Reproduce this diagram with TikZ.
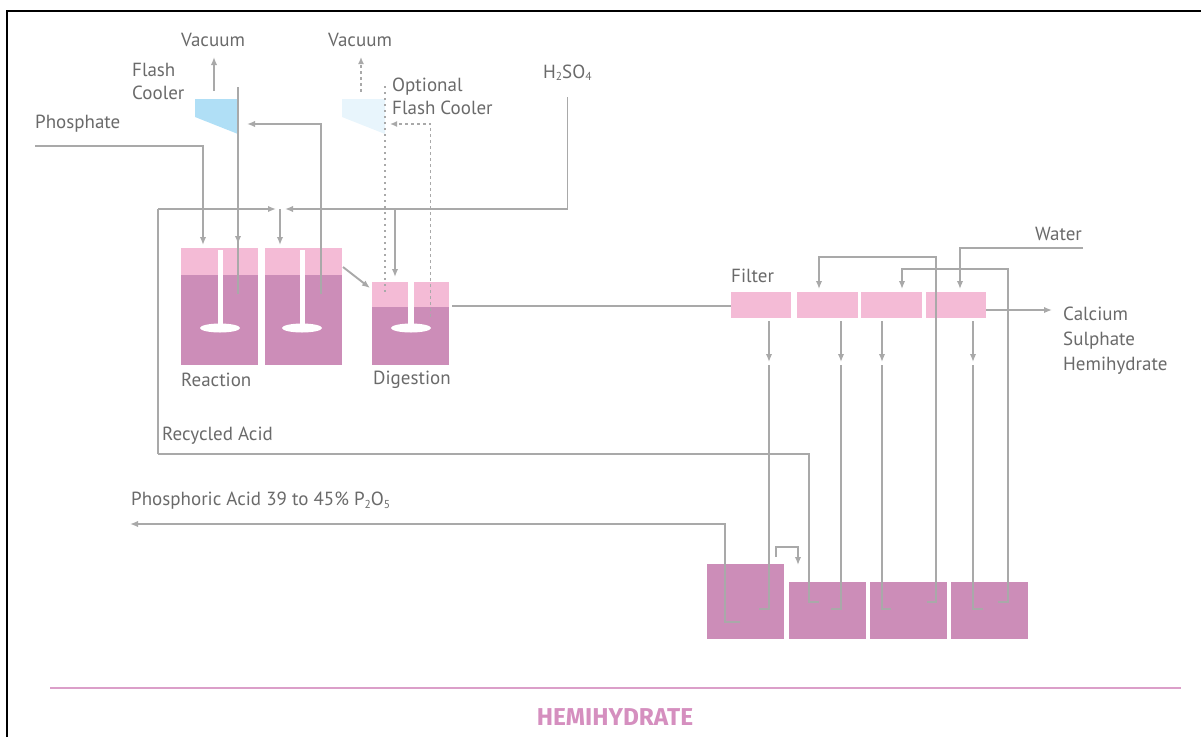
\documentclass[tikz,border=0pt]{standalone}
\usepackage{fontspec}
\setmainfont{PT Sans}
\newfontfamily\titlefont{Fira Sans}
\usetikzlibrary{arrows.meta,calc}
\definecolor{flowgray}{HTML}{A9A9A9}
\definecolor{labelgray}{HTML}{6A6A6A}
\definecolor{lightpink}{HTML}{F4BBD6}
\definecolor{darkpink}{HTML}{CC8DB8}
\definecolor{rulepink}{HTML}{DB9FC9}
\definecolor{titlepink}{HTML}{D58FBF}
\definecolor{coolblue}{HTML}{B0DFF6}
\definecolor{coolpale}{HTML}{E8F5FC}
\newcommand{\subdigit}[1]{\raisebox{-2.5pt}{\fontsize{11.5}{12}\selectfont #1}}
\tikzset{
  x=1pt,y=-1pt,
  box/.style={inner sep=0pt,outer sep=0pt,minimum width=#1},
  lighttank/.style={box=#1,fill=lightpink},
  darktank/.style={box=#1,fill=darkpink},
  lbl/.style={inner sep=0pt,text=labelgray,font=\fontsize{19}{23}\selectfont,align=left},
  pipe/.style={draw=flowgray,line width=1.9pt},
  flow/.style={pipe,-{Latex[length=8pt,width=6.5pt]}},
  dashpipe/.style={pipe,line width=1.6pt,dash pattern=on 3pt off 3pt},
  dotpipe/.style={pipe,line width=1.6pt,dash pattern=on 2pt off 4pt},
  dashflow/.style={dashpipe,-{Latex[length=7pt,width=6pt]}},
  impeller/.style={fill=white,draw=none}
}
\begin{document}
\begin{tikzpicture}
\useasboundingbox (0,0) rectangle (1201,737);
% frame
\draw[black,line width=2pt] (7,737) -- (7,11) -- (1201,11);
% reaction and digestion tanks
\node[lighttank=77,minimum height=27] (r1top) at (219.5,261.5) {};
\node[darktank=77,minimum height=90] (r1) at (219.5,320) {};
\node[lighttank=77,minimum height=27] (r2top) at (303.5,261.5) {};
\node[darktank=77,minimum height=90] (r2) at (303.5,320) {};
\node[lighttank=77,minimum height=25] (dtop) at (410.5,294.5) {};
\node[darktank=77,minimum height=58] (d) at (410.5,336) {};
\fill[white] (217.5,250) rectangle (222.5,330);
\fill[impeller] (220,328) ellipse [x radius=20,y radius=4.5];
\fill[white] (299.5,250) rectangle (304.5,330);
\fill[impeller] (302,328) ellipse [x radius=20,y radius=4.5];
\fill[white] (408,282) rectangle (414,330);
\fill[impeller] (411,328) ellipse [x radius=20,y radius=4.5];
% flash coolers
\fill[coolblue] (195,99) -- (238,99) -- (238,134) -- (195,117) -- cycle;
\fill[coolpale] (342,99) -- (385,99) -- (385,134) -- (342,117) -- cycle;
% filter
\node[lighttank=60.5,minimum height=26] (f1) at (761,305) {};
\node[lighttank=61,minimum height=26] (f2) at (827.5,305) {};
\node[lighttank=61,minimum height=26] (f3) at (891.5,305) {};
\node[lighttank=60.5,minimum height=26] (f4) at (956,305) {};
% bottom tanks
\node[darktank=77,minimum height=75] (t1) at (745.5,601.5) {};
\node[darktank=77,minimum height=57] (t2) at (827.5,610.5) {};
\node[darktank=77,minimum height=57] (t3) at (908.5,610.5) {};
\node[darktank=77,minimum height=57] (t4) at (989.5,610.5) {};
% labels
\node[lbl,anchor=west] (vac1) at (181,39.5) {Vacuum};
\node[lbl,anchor=west] (vac2) at (328,39.5) {Vacuum};
\node[lbl,anchor=west] (fc) at (132,81.5) {Flash\\Cooler};
\node[lbl,anchor=west] (ofc) at (392,96.5) {Optional\\Flash Cooler};
\node[lbl,anchor=west] (phos) at (35,123.5) {Phosphate};
\node[lbl,anchor=west] (hso) at (543,72.5) {H\subdigit{2}SO\subdigit{4}};
\node[lbl,anchor=west] (water) at (1035,233.5) {Water};
\node[lbl,anchor=west] (filter) at (731,276) {Filter};
\node[lbl,anchor=west,font=\fontsize{19}{25}\selectfont] (csh) at (1063,341) {Calcium\\Sulphate\\Hemihydrate};
\node[lbl,anchor=west] (reaction) at (181,379.5) {Reaction};
\node[lbl,anchor=west] (digestion) at (373,379.5) {Digestion};
\node[lbl,anchor=west] (recycled) at (162,435.5) {Recycled Acid};
\node[lbl,anchor=west] (acid) at (131,501) {Phosphoric Acid 39 to 45\% P\subdigit{2}O\subdigit{5}};
\node[font=\titlefont\bfseries\fontsize{24.4}{28}\selectfont,text=titlepink,inner sep=0pt] (title) at (615,717) {HEMIHYDRATE};
\draw[rulepink,line width=2pt] (50,688) -- (1181,688);
% free ends
\coordinate (vac1a) at (214,91); \coordinate (vac1b) at (214,57);
\coordinate (vac2a) at (361,92); \coordinate (vac2b) at (361,57);
\coordinate (phosa) at (35,146); \coordinate (phosb) at (203,146);
\coordinate (fl1t) at (238,87); \coordinate (fl1b) at (238,294);
\coordinate (fl2b) at (321,294); \coordinate (fl2c) at (321,124); \coordinate (fl2t) at (247,124);
\coordinate (ofl1t) at (385,86); \coordinate (ofl1b) at (385,294);
\coordinate (ofl2b) at (430.5,317); \coordinate (ofl2c) at (430.5,124); \coordinate (ofl2t) at (390,124);
\coordinate (hsoa) at (567.5,97); \coordinate (hsob) at (567.5,209); \coordinate (junc) at (280,209);
\coordinate (jl) at (276,209); \coordinate (jr) at (285,209);
\coordinate (reca) at (158,209); \coordinate (recb) at (158,454); \coordinate (recc) at (809,454);
\coordinate (recd) at (809,602); \coordinate (rece) at (819,602);
\coordinate (hbranch) at (395,209);
\coordinate (diaga) at (343,267); \coordinate (diagb) at (370,288);
\coordinate (waterc) at (1083,248); \coordinate (waterd) at (960,248);
\coordinate (washa) at (936,257); \coordinate (washb) at (819,257);
\coordinate (wash2a) at (1008,269); \coordinate (wash2b) at (902,269);
\coordinate (csharrow) at (1052,310); \coordinate (f4r) at (986,310);
\coordinate (acidtip) at (130,524); \coordinate (acidc) at (725,524); \coordinate (acidd) at (725,622); \coordinate (acide) at (740,622);
\coordinate (smalla) at (776,557); \coordinate (smallb) at (776,547); \coordinate (smallc) at (798,547); \coordinate (smalld) at (798,565);
% vacuum
\draw[flow] (vac1a) -- (vac1b);
\draw[dashflow] (vac2a) -- (vac2b);
% feeds
\draw[flow,shorten >=3pt] (phosa) -- (phosb) -- (phosb |- r1top.north);
\draw[pipe] (fl1t) -- (fl1b);
\draw[flow] (fl1t) -- (238,244);
\draw[flow] (fl2b) -- (fl2c) -- (fl2t);
\draw[dotpipe] (ofl1t) -- (ofl1b);
\draw[dashflow] (ofl2b) -- (ofl2c) -- (ofl2t);
\draw[flow] (hsoa) -- (hsob) -- (jr);
\draw[flow] (reca) -- (jl);
\draw[pipe] (recb) -- (reca);
\draw[flow,shorten >=3pt] (junc) -- (junc |- r2top.north);
\draw[flow,shorten >=5pt] (hbranch) -- (hbranch |- dtop.north);
\draw[flow] (diaga) -- (diagb);
\draw[pipe] (recb) -- (recc) -- (recd) -- (rece);
% filter line
\draw[pipe,shorten <=3pt] ([yshift=1pt]d.north east |- dtop.south) -- ([yshift=1pt]f1.west |- dtop.south);
\draw[flow] (f4r) -- (csharrow);
\draw[flow,shorten >=3pt] (waterc) -- (waterd) -- (waterd |- f4.north);
\draw[flow,shorten >=3pt] (t3.north -| washa) -- (washa) -- (washb) -- (washb |- f2.north);
\draw[flow,shorten >=3pt] (t4.north -| wash2a) -- (wash2a) -- (wash2b) -- (wash2b |- f3.north);
\draw[pipe] (t3.north -| washa) -- (936,602) -- (927,602);
\draw[pipe] (t4.north -| wash2a) -- (1008,602) -- (998,602);
% filtrate drops
\foreach \xx/\bx in {769/759,841/831,882/891,973/983}{
  \draw[flow,shorten <=3pt] (\xx,318) -- (\xx,362);
  \draw[pipe] (\xx,365) -- (\xx,609) -- (\bx,609);
}
% phosphoric acid
\draw[flow] (acide) -- (acidd) -- (acidc) -- (acidtip);
\draw[flow] (smalla) -- (smallb) -- (smallc) -- (smalld);
\end{tikzpicture}
\end{document}
